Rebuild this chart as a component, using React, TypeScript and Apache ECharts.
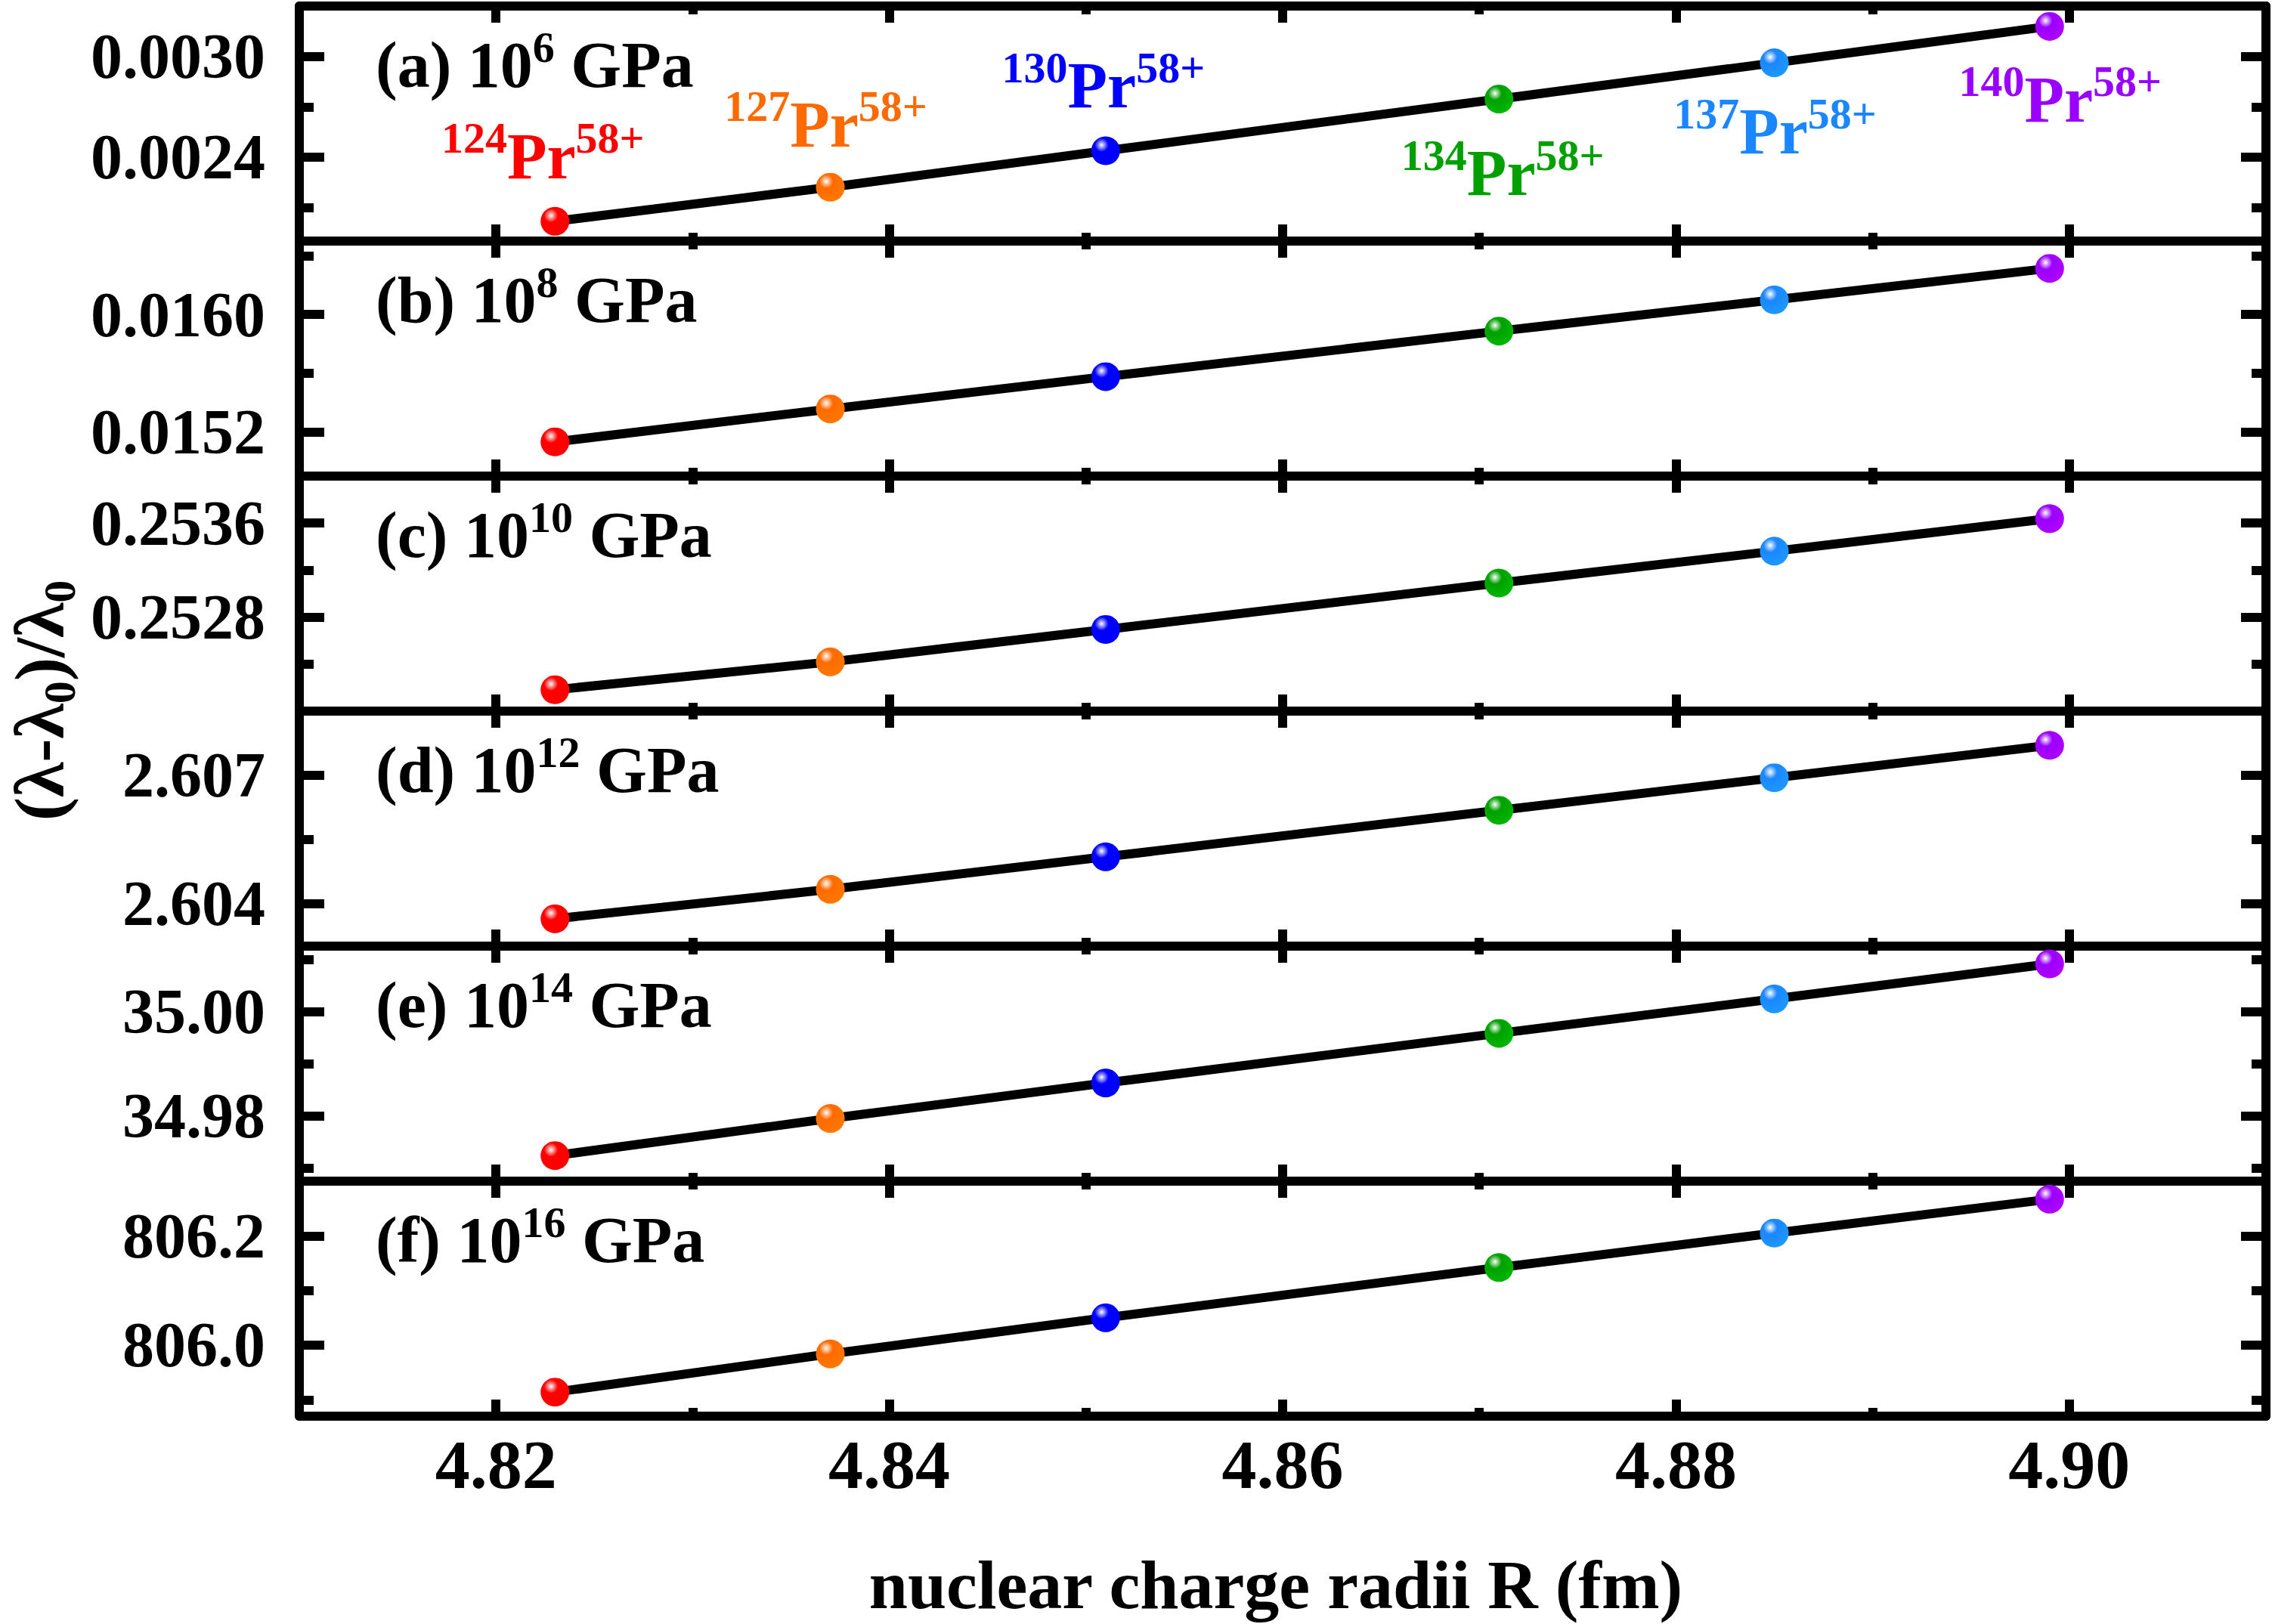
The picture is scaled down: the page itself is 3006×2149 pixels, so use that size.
import React, { useEffect, useRef } from "react";
import * as echarts from "echarts";

// nuclear charge radii R (fm) of the six Pr isotopes
const radii = [4.823, 4.837, 4.851, 4.871, 4.885, 4.899];
const massNumbers = ["124", "127", "130", "134", "137", "140"];

// (λ-λ0)/λ0 for each pressure panel
const panelA = [0.002018, 0.002221, 0.002438, 0.002746, 0.002962, 0.003179];
const panelB = [0.015133, 0.015357, 0.015577, 0.015887, 0.0161, 0.016314];
const panelC = [0.252182, 0.252419, 0.252695, 0.25309, 0.253361, 0.253638];
const panelD = [2.60364, 2.60433, 2.60509, 2.60618, 2.60694, 2.6077];
const panelE = [34.9724, 34.9795, 34.9863, 34.9958, 35.0024, 35.0091];
const panelF = [805.914, 805.984, 806.05, 806.142, 806.205, 806.267];

const panelLetters = ["a", "b", "c", "d", "e", "f"];
const pressureExp = ["6", "8", "10", "12", "14", "16"];

// axis ranges / ticks
const xMin = 4.81;
const xMax = 4.91;
const xMajor = [4.82, 4.84, 4.86, 4.88, 4.9];
const xMinor = [4.83, 4.85, 4.87, 4.89];

const yRanges = [
  [0.0019, 0.0033],
  [0.0149, 0.0165],
  [0.252, 0.254],
  [2.603, 2.6085],
  [34.9675, 35.0125],
  [805.87, 806.3],
];
const yMajor = [
  [0.0024, 0.003],
  [0.0152, 0.016],
  [0.2528, 0.2536],
  [2.604, 2.607],
  [34.98, 35.0],
  [806.0, 806.2],
];
const yMinor = [
  [0.0021, 0.0027],
  [0.0156, 0.0164],
  [0.2524, 0.2532],
  [2.6055],
  [34.97, 34.99, 35.01],
  [805.9, 806.1],
];
const yDecimals = [4, 4, 4, 3, 2, 1];

// styling
const isoColors = ["#ff0000", "#ff6a00", "#0000ff", "#00a000", "#1a86ff", "#9a00ff"];
const labelOffsets = [
  [-16, -86],
  [-6, -83],
  [-3, -86],
  [5, 98],
  [1, 91],
  [14, 97],
];

const FONT = '"Liberation Serif", "Times New Roman", serif';
const W = 3006;
const H = 2149;
const LEFT = 396;
const RIGHT = 8;
const TOP = 8;
const PANEL_H = 311;
const LW = 12;

const panels = [panelA, panelB, panelC, panelD, panelE, panelF];

function ball(color: string) {
  return new echarts.graphic.RadialGradient(0.36, 0.3, 0.75, [
    { offset: 0, color: "#ffffff" },
    { offset: 0.14, color: echarts.color.lift(color, 0.55) },
    { offset: 0.32, color: color },
    { offset: 1, color: echarts.color.lift(color, -0.15) },
  ]);
}

// main text + raised superscript (bottom-aligned token lifted by its bottom padding)
function supRich(color: string) {
  return {
    m: { fontSize: 86, fontWeight: "bold", fontFamily: FONT, color, lineHeight: 86 },
    s: {
      fontSize: 58,
      fontWeight: "bold",
      fontFamily: FONT,
      color,
      lineHeight: 20,
      verticalAlign: "bottom",
      padding: [0, 0, 38, 0],
    },
  };
}

const App = () => {
  const chartRef = useRef<HTMLDivElement>(null);

  useEffect(() => {
    document.body.style.margin = "0";
    if (!chartRef.current) return;
    const chart = echarts.init(chartRef.current, null, { renderer: "svg" });

    const grids: any[] = [];
    const xAxes: any[] = [];
    const yAxes: any[] = [];
    const series: any[] = [];
    const graphics: any[] = [];

    const lineStyle = { color: "#000", width: LW };

    panels.forEach((vals, i) => {
      const top = TOP + i * PANEL_H;
      grids.push({ left: LEFT, right: RIGHT, top, height: PANEL_H, containLabel: false });

      const xBase = {
        gridIndex: i,
        type: "value",
        min: xMin,
        max: xMax,
        splitLine: { show: false },
      };
      const isLast = i === panels.length - 1;
      ["bottom", "top"].forEach((pos) => {
        xAxes.push({
          ...xBase,
          position: pos,
          axisLine: { show: true, onZero: false, lineStyle },
          axisTick: { show: true, inside: true, length: 22, customValues: xMajor, lineStyle: { width: LW, color: "#000" } },
          axisLabel: {
            show: isLast && pos === "bottom",
            customValues: xMajor,
            formatter: (v: number) => v.toFixed(2),
            margin: 18,
            fontSize: 92,
            fontWeight: "bold",
            fontFamily: FONT,
            color: "#000",
          },
        });
        xAxes.push({
          ...xBase,
          position: pos,
          axisLine: { show: false, onZero: false },
          axisTick: { show: true, inside: true, length: 11, customValues: xMinor, lineStyle: { width: LW, color: "#000" } },
          axisLabel: { show: false },
        });
      });

      const yBase = {
        gridIndex: i,
        type: "value",
        min: yRanges[i][0],
        max: yRanges[i][1],
        splitLine: { show: false },
      };
      ["left", "right"].forEach((pos) => {
        yAxes.push({
          ...yBase,
          position: pos,
          axisLine: { show: true, onZero: false, lineStyle },
          axisTick: { show: true, inside: true, length: 33, customValues: yMajor[i], lineStyle: { width: LW, color: "#000" } },
          axisLabel: {
            show: pos === "left",
            customValues: yMajor[i],
            formatter: (v: number) => v.toFixed(yDecimals[i]),
            margin: 45,
            fontSize: 84,
            fontWeight: "bold",
            fontFamily: FONT,
            color: "#000",
          },
        });
        yAxes.push({
          ...yBase,
          position: pos,
          axisLine: { show: false, onZero: false },
          axisTick: { show: true, inside: true, length: 19, customValues: yMinor[i], lineStyle: { width: LW, color: "#000" } },
          axisLabel: { show: false },
        });
      });

      series.push({
        type: "line",
        xAxisIndex: i * 4,
        yAxisIndex: i * 4,
        clip: false,
        symbol: "circle",
        symbolSize: 38,
        lineStyle: { color: "#000", width: LW },
        z: 3,
        data: vals.map((v, k) => ({
          value: [radii[k], v],
          itemStyle: { color: ball(isoColors[k]) },
          label:
            i === 0
              ? {
                  show: true,
                  position: "inside",
                  offset: labelOffsets[k],
                  formatter: `{s|${massNumbers[k]}}{m|Pr}{s|58+}`,
                  rich: supRich(isoColors[k]),
                }
              : { show: false },
        })),
      });

      graphics.push({
        type: "text",
        x: 497,
        y: top + 78,
        style: {
          text: `{m|(${panelLetters[i]}) 10}{s|${pressureExp[i]}}{m| GPa}`,
          rich: supRich("#000"),
          align: "left",
          textAlign: "left",
          verticalAlign: "middle",
          textVerticalAlign: "middle",
        },
      });
    });

    // axis titles
    graphics.push({
      type: "text",
      x: 1688,
      y: 2097,
      style: {
        text: "nuclear charge radii R (fm)",
        font: `bold 92px ${FONT}`,
        fill: "#000",
        align: "center",
        textAlign: "center",
        verticalAlign: "middle",
        textVerticalAlign: "middle",
      },
    });
    const nameRich = {
      m: { fontSize: 94, fontWeight: "bold", fontFamily: FONT, color: "#000", lineHeight: 94 },
      sub: {
        fontSize: 60,
        fontWeight: "bold",
        fontFamily: FONT,
        color: "#000",
        lineHeight: 16,
        verticalAlign: "top",
        padding: [44, 0, 0, 0],
      },
    };
    graphics.push({
      type: "text",
      x: 52,
      y: 927,
      rotation: Math.PI / 2,
      style: {
        text: "{m|(λ-λ}{sub|0}{m|)/λ}{sub|0}",
        rich: nameRich,
        align: "center",
        textAlign: "center",
        verticalAlign: "middle",
        textVerticalAlign: "middle",
      },
    });

    chart.setOption({
      animation: false,
      backgroundColor: "#fff",
      grid: grids,
      xAxis: xAxes,
      yAxis: yAxes,
      series,
      graphic: graphics,
    });

    return () => {
      chart.dispose();
    };
  }, []);

  return <div ref={chartRef} style={{ width: W, height: H }} />;
};

export default App;
